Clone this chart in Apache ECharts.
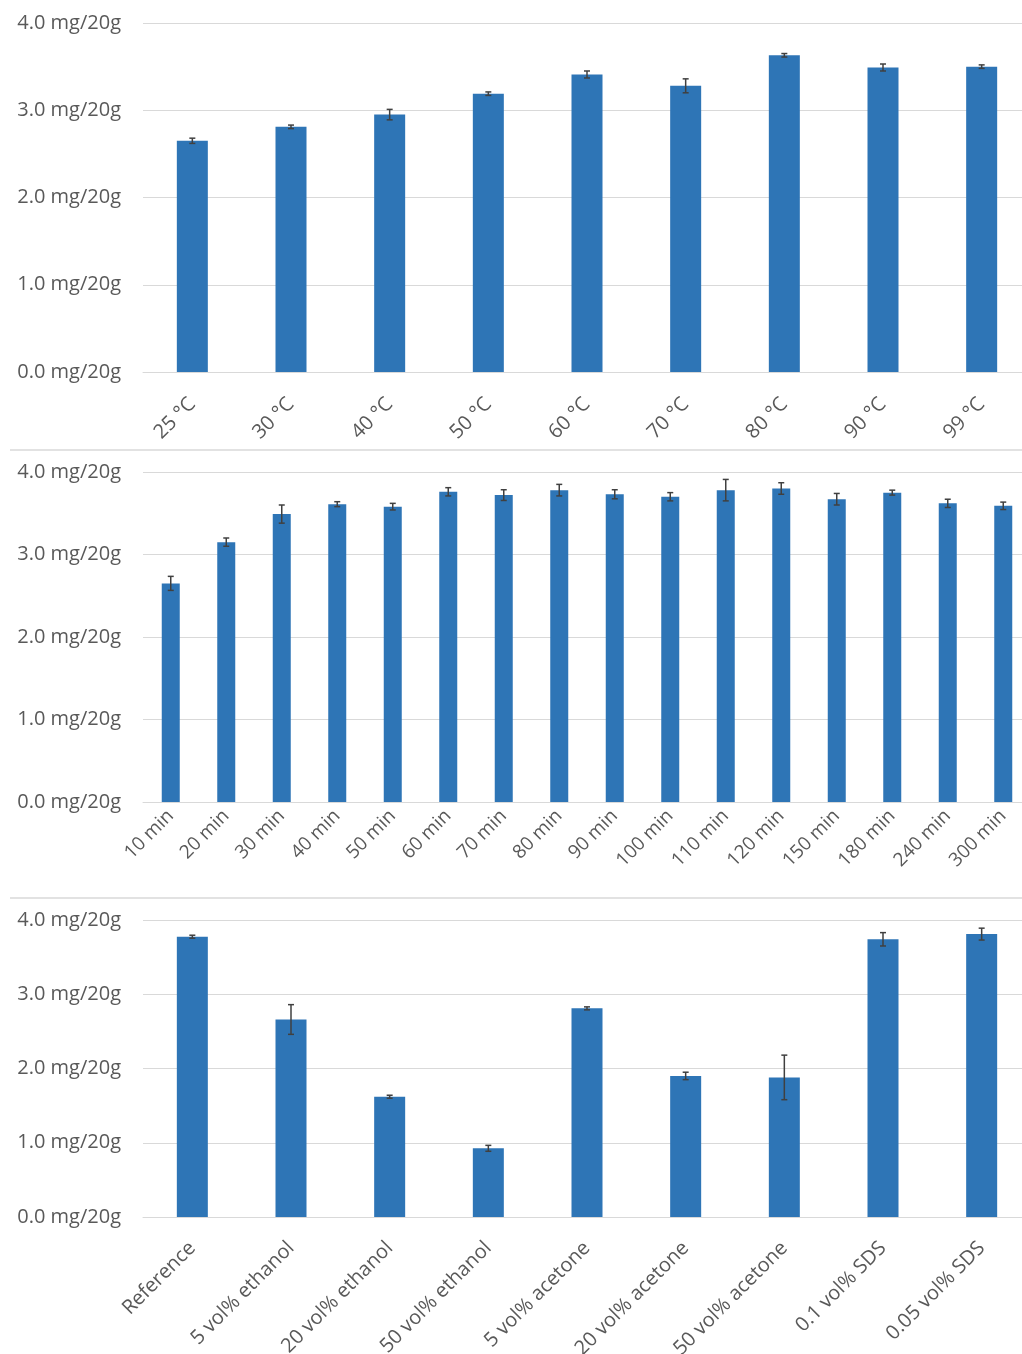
<!DOCTYPE html>
<html>
<head>
<meta charset="utf-8">
<script src="https://cdn.jsdelivr.net/npm/echarts@6/dist/echarts.min.js"></script>
<style>
html,body{margin:0;padding:0;background:#fff;overflow:hidden;width:1022px;height:1354px;}
#c{width:1040px;height:1354px;}
</style>
</head>
<body>
<div id="c"></div>
<script>
// ---- Data ----
const tempCats = ['25 °C','30 °C','40 °C','50 °C','60 °C','70 °C','80 °C','90 °C','99 °C'];
const tempVals = [2.65, 2.81, 2.95, 3.19, 3.41, 3.28, 3.63, 3.49, 3.50];
const tempErr  = [0.03, 0.02, 0.06, 0.02, 0.04, 0.08, 0.02, 0.04, 0.02];

const timeCats = ['10 min','20 min','30 min','40 min','50 min','60 min','70 min','80 min','90 min','100 min','110 min','120 min','150 min','180 min','240 min','300 min'];
const timeVals = [2.65, 3.15, 3.49, 3.61, 3.58, 3.76, 3.72, 3.78, 3.73, 3.70, 3.78, 3.80, 3.67, 3.75, 3.62, 3.59];
const timeErr  = [0.085, 0.05, 0.11, 0.03, 0.04, 0.05, 0.065, 0.07, 0.055, 0.05, 0.13, 0.07, 0.07, 0.03, 0.05, 0.045];

const solvCats = ['Reference','5 vol% ethanol','20 vol% ethanol','50 vol% ethanol','5 vol% acetone','20 vol% acetone','50 vol% acetone','0.1 vol% SDS','0.05 vol% SDS'];
const solvVals = [3.775, 2.66, 1.62, 0.925, 2.81, 1.90, 1.88, 3.74, 3.81];
const solvErr  = [0.02, 0.20, 0.02, 0.04, 0.02, 0.05, 0.30, 0.09, 0.08];

const yTicks = [0, 1, 2, 3, 4];

// ---- Styling ----
const FONT = '"Open Sans", sans-serif';
const LABEL_COLOR = '#595959';
const GRID_COLOR = '#d9d9d9';
const BAR_COLOR = '#2e75b6';
const ERR_COLOR = '#404040';

const grids = [
  {left: 143, top: 23, width: 888, height: 349, outerBoundsMode: 'none', containLabel: false},
  {left: 143, top: 472, width: 888, height: 330, outerBoundsMode: 'none', containLabel: false},
  {left: 143, top: 920, width: 888, height: 297, outerBoundsMode: 'none', containLabel: false}
];
const cats = [tempCats, timeCats, solvCats];
const vals = [tempVals, timeVals, solvVals];
const errs = [tempErr, timeErr, solvErr];
const barWidths = [31, 18, 31];
const labelMargins = [29, 11, 28];
const labelSizes = [20, 19, 20];

function errRender(params, api) {
  const x = api.value(0), v = api.value(1), e = api.value(2);
  const top = api.coord([x, v + e]);
  const bot = api.coord([x, v - e]);
  const cw = 3;
  const style = {stroke: ERR_COLOR, lineWidth: 1.5};
  return {
    type: 'group',
    children: [
      {type: 'line', shape: {x1: top[0], y1: top[1], x2: bot[0], y2: bot[1]}, style: style},
      {type: 'line', shape: {x1: top[0]-cw, y1: top[1], x2: top[0]+cw, y2: top[1]}, style: style},
      {type: 'line', shape: {x1: bot[0]-cw, y1: bot[1], x2: bot[0]+cw, y2: bot[1]}, style: style}
    ]
  };
}

const xAxes = [], yAxes = [], series = [];
for (let i = 0; i < 3; i++) {
  xAxes.push({
    type: 'category', gridIndex: i, data: cats[i],
    axisLine: {show: true, lineStyle: {color: GRID_COLOR, width: 1}},
    axisTick: {show: false},
    axisLabel: {rotate: 45, interval: 0, margin: labelMargins[i], color: LABEL_COLOR, fontFamily: FONT, fontSize: labelSizes[i]}
  });
  yAxes.push({
    type: 'value', gridIndex: i, min: yTicks[0], max: yTicks[yTicks.length-1], interval: 1,
    axisLine: {show: false}, axisTick: {show: false},
    splitLine: {lineStyle: {color: GRID_COLOR, width: 1}},
    axisLabel: {margin: 22, color: LABEL_COLOR, fontFamily: FONT, fontSize: 20,
      formatter: v => v.toFixed(1) + ' mg/20g'}
  });
  series.push({
    type: 'bar', xAxisIndex: i, yAxisIndex: i, data: vals[i],
    barWidth: barWidths[i], itemStyle: {color: BAR_COLOR}, silent: true
  });
  series.push({
    type: 'custom', xAxisIndex: i, yAxisIndex: i,
    data: vals[i].map((v, j) => [j, v, errs[i][j]]),
    encode: {x: 0, y: 1},
    renderItem: errRender, z: 10, silent: true
  });
}

const chart = echarts.init(document.getElementById('c'), null, {renderer: 'canvas'});
chart.setOption({
  animation: false,
  backgroundColor: '#ffffff',
  grid: grids,
  xAxis: xAxes,
  yAxis: yAxes,
  series: series,
  graphic: [
    {type: 'line', shape: {x1: 10, y1: 450, x2: 1022, y2: 450}, style: {stroke: GRID_COLOR, lineWidth: 1.5}},
    {type: 'line', shape: {x1: 10, y1: 898, x2: 1022, y2: 898}, style: {stroke: GRID_COLOR, lineWidth: 1.5}}
  ]
});
</script>
</body>
</html>
